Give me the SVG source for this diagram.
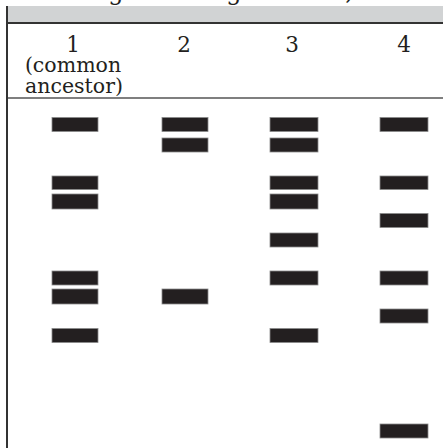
<svg xmlns="http://www.w3.org/2000/svg" width="443" height="448" viewBox="0 0 443 448">
<style>
.hd{font-family:"DejaVu Serif","Liberation Serif",serif;fill:#231f20;text-anchor:middle}
.num{font-size:21.5px}
.sub{font-size:20.5px}
.band{fill:#231f20;stroke:#8a8a8a;stroke-width:0.8}
</style>
<rect x="0" y="0" width="443" height="448" fill="#ffffff"/>
<rect x="7" y="6" width="436" height="16" fill="#d1d3d4"/>
<text class="hd" font-size="24" y="0"><tspan x="116">g</tspan><tspan x="234">g</tspan><tspan x="349">,</tspan></text>
<line x1="7" y1="23" x2="443" y2="23" stroke="#333333" stroke-width="2"/>
<line x1="7" y1="98" x2="443" y2="98" stroke="#555555" stroke-width="1.6"/>
<line x1="7" y1="6" x2="7" y2="448" stroke="#333333" stroke-width="2"/>
<g id="header">
<text class="hd"><tspan class="num" x="73" y="52">1</tspan><tspan class="sub" x="73" y="72">(common</tspan><tspan class="sub" x="74" y="93">ancestor)</tspan></text>
<text class="hd num" x="184" y="52">2</text>
<text class="hd num" x="292" y="52">3</text>
<text class="hd num" x="404" y="52">4</text>
</g>
<g id="lane1">
<rect class="band" x="52" y="117.5" width="46" height="14"/>
<rect class="band" x="52" y="176" width="46" height="13.5"/>
<rect class="band" x="52" y="194" width="46" height="15"/>
<rect class="band" x="52" y="271" width="46" height="14"/>
<rect class="band" x="52" y="289" width="46" height="15"/>
<rect class="band" x="52" y="328.5" width="46" height="14"/>
</g>
<g id="lane2">
<rect class="band" x="162" y="117.5" width="46" height="14"/>
<rect class="band" x="162" y="138" width="46" height="14"/>
<rect class="band" x="162" y="289" width="46" height="15"/>
</g>
<g id="lane3">
<rect class="band" x="270" y="117.5" width="48" height="14"/>
<rect class="band" x="270" y="138" width="48" height="14"/>
<rect class="band" x="270" y="176" width="48" height="13.5"/>
<rect class="band" x="270" y="194" width="48" height="15"/>
<rect class="band" x="270" y="233" width="48" height="14"/>
<rect class="band" x="270" y="271" width="48" height="14"/>
<rect class="band" x="270" y="328.5" width="48" height="14"/>
</g>
<g id="lane4">
<rect class="band" x="380" y="117.5" width="48" height="14"/>
<rect class="band" x="380" y="176" width="48" height="13.5"/>
<rect class="band" x="380" y="213.5" width="48" height="14"/>
<rect class="band" x="380" y="271" width="48" height="14"/>
<rect class="band" x="380" y="309" width="48" height="14"/>
<rect class="band" x="380" y="424" width="48" height="14"/>
</g>
</svg>
